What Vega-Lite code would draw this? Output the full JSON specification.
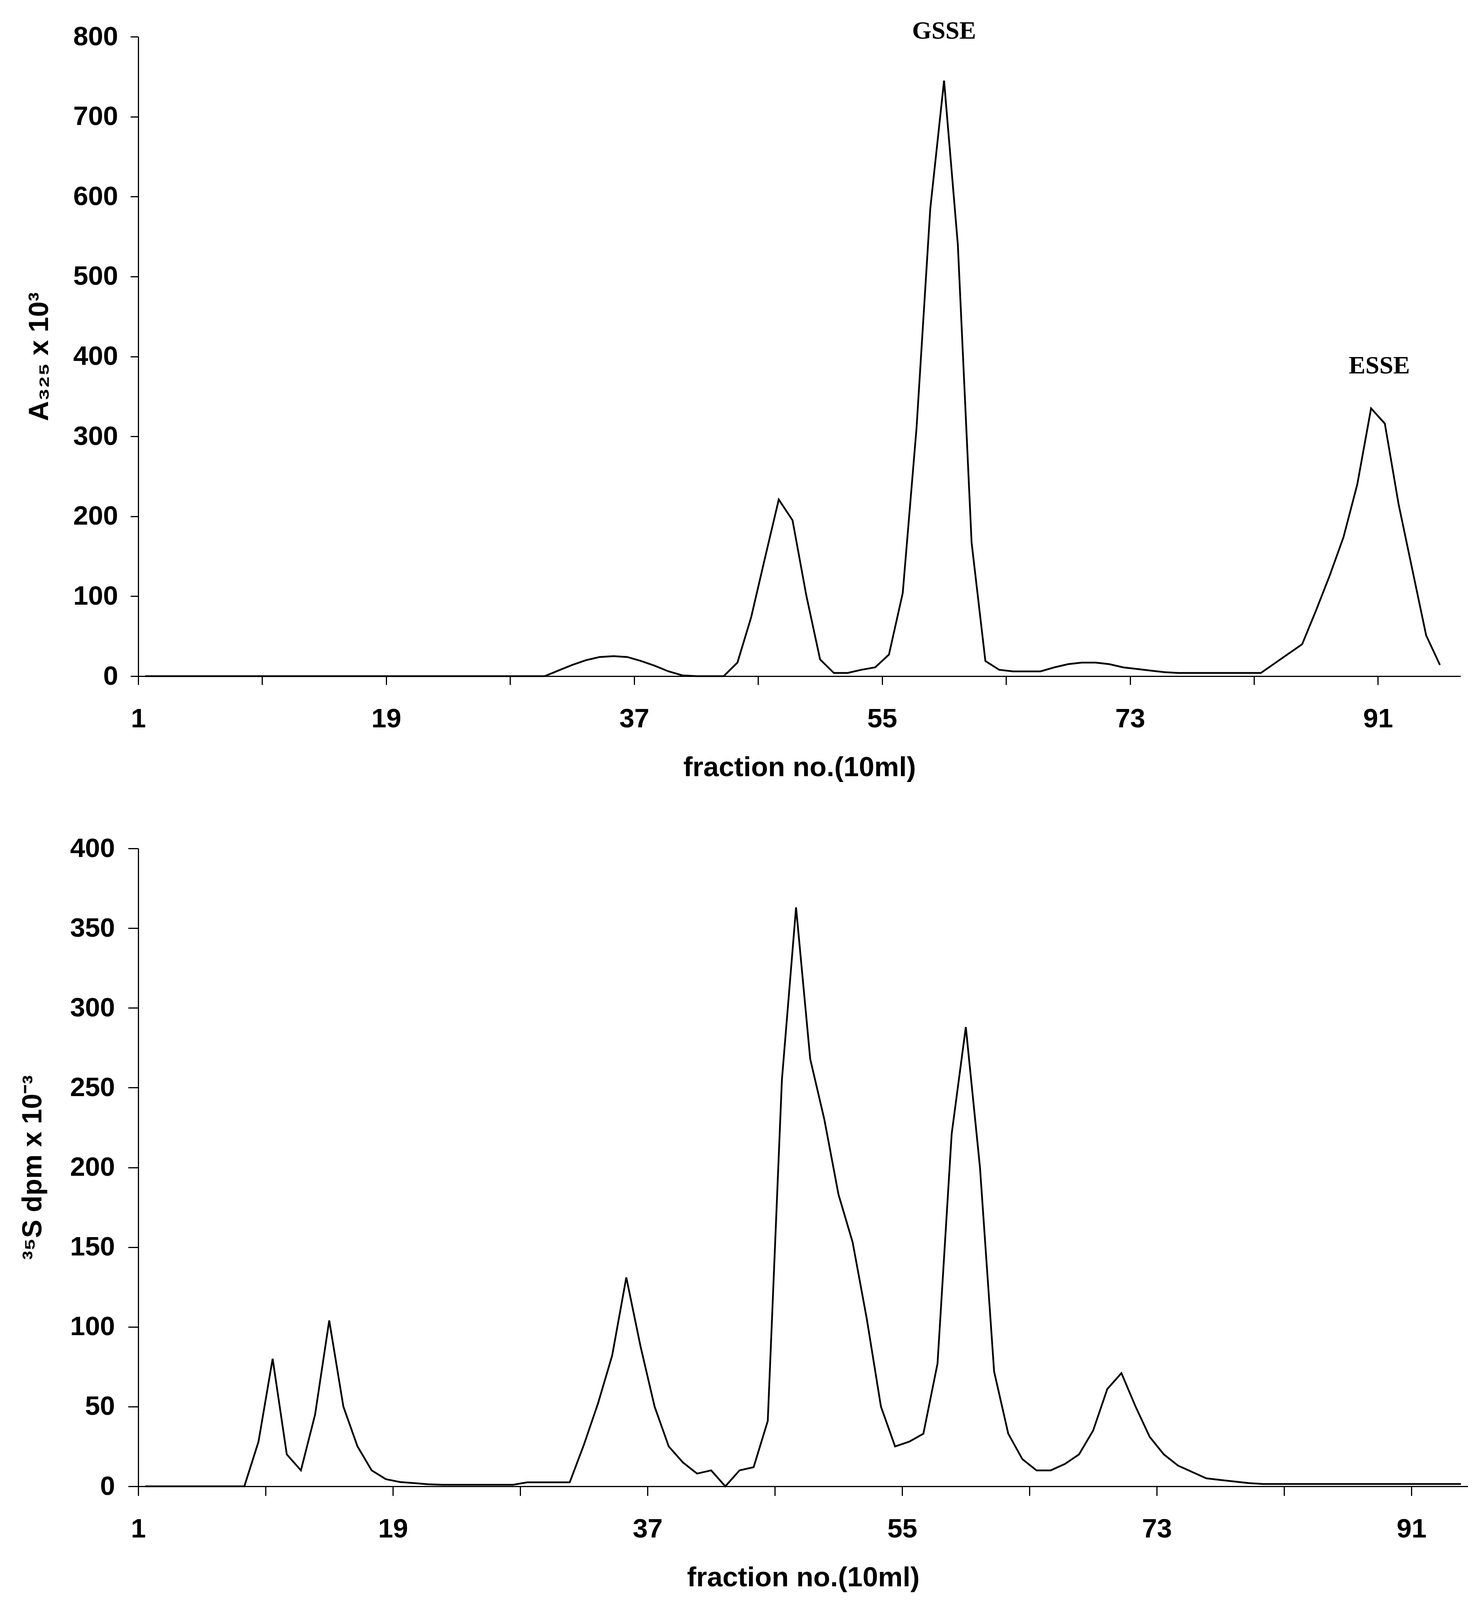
{
  "$schema": "https://vega.github.io/schema/vega-lite/v6.json",
  "background": "white",
  "padding": {"left": 49, "top": 47, "right": 0, "bottom": 10},
  "columns": 1,
  "align": "none",
  "spacing": 138,
  "config": {
    "view": {"stroke": null},
    "axis": {
      "grid": false,
      "domainColor": "black",
      "domainWidth": 3,
      "tickColor": "black",
      "tickWidth": 3,
      "labelColor": "black",
      "labelFont": "Liberation Sans",
      "labelFontWeight": "bold",
      "labelFontSize": 69,
      "titleFont": "Liberation Sans",
      "titleFontWeight": "bold",
      "titleColor": "black"
    }
  },
  "datasets": {
    "a325": [
      {"fraction": 1, "value": 0}, {"fraction": 2, "value": 0}, {"fraction": 3, "value": 0}, {"fraction": 4, "value": 0},
      {"fraction": 5, "value": 0}, {"fraction": 6, "value": 0}, {"fraction": 7, "value": 0}, {"fraction": 8, "value": 0},
      {"fraction": 9, "value": 0}, {"fraction": 10, "value": 0}, {"fraction": 11, "value": 0}, {"fraction": 12, "value": 0},
      {"fraction": 13, "value": 0}, {"fraction": 14, "value": 0}, {"fraction": 15, "value": 0}, {"fraction": 16, "value": 0},
      {"fraction": 17, "value": 0}, {"fraction": 18, "value": 0}, {"fraction": 19, "value": 0}, {"fraction": 20, "value": 0},
      {"fraction": 21, "value": 0}, {"fraction": 22, "value": 0}, {"fraction": 23, "value": 0}, {"fraction": 24, "value": 0},
      {"fraction": 25, "value": 0}, {"fraction": 26, "value": 0}, {"fraction": 27, "value": 0}, {"fraction": 28, "value": 0},
      {"fraction": 29, "value": 0}, {"fraction": 30, "value": 0}, {"fraction": 31, "value": 7}, {"fraction": 32, "value": 14},
      {"fraction": 33, "value": 20}, {"fraction": 34, "value": 24}, {"fraction": 35, "value": 25}, {"fraction": 36, "value": 24},
      {"fraction": 37, "value": 19}, {"fraction": 38, "value": 13}, {"fraction": 39, "value": 6}, {"fraction": 40, "value": 1},
      {"fraction": 41, "value": 0}, {"fraction": 42, "value": 0}, {"fraction": 43, "value": 0}, {"fraction": 44, "value": 17},
      {"fraction": 45, "value": 74}, {"fraction": 46, "value": 148}, {"fraction": 47, "value": 221}, {"fraction": 48, "value": 195},
      {"fraction": 49, "value": 101}, {"fraction": 50, "value": 21}, {"fraction": 51, "value": 4}, {"fraction": 52, "value": 4},
      {"fraction": 53, "value": 8}, {"fraction": 54, "value": 11}, {"fraction": 55, "value": 27}, {"fraction": 56, "value": 104},
      {"fraction": 57, "value": 310}, {"fraction": 58, "value": 585}, {"fraction": 59, "value": 745}, {"fraction": 60, "value": 540},
      {"fraction": 61, "value": 167}, {"fraction": 62, "value": 19}, {"fraction": 63, "value": 8}, {"fraction": 64, "value": 6},
      {"fraction": 65, "value": 6}, {"fraction": 66, "value": 6}, {"fraction": 67, "value": 11}, {"fraction": 68, "value": 15},
      {"fraction": 69, "value": 17}, {"fraction": 70, "value": 17}, {"fraction": 71, "value": 15}, {"fraction": 72, "value": 11},
      {"fraction": 73, "value": 9}, {"fraction": 74, "value": 7}, {"fraction": 75, "value": 5}, {"fraction": 76, "value": 4},
      {"fraction": 77, "value": 4}, {"fraction": 78, "value": 4}, {"fraction": 79, "value": 4}, {"fraction": 80, "value": 4},
      {"fraction": 81, "value": 4}, {"fraction": 82, "value": 4}, {"fraction": 83, "value": 16}, {"fraction": 84, "value": 28},
      {"fraction": 85, "value": 40}, {"fraction": 86, "value": 82}, {"fraction": 87, "value": 126}, {"fraction": 88, "value": 174},
      {"fraction": 89, "value": 240}, {"fraction": 90, "value": 335}, {"fraction": 91, "value": 316}, {"fraction": 92, "value": 215},
      {"fraction": 93, "value": 133}, {"fraction": 94, "value": 51}, {"fraction": 95, "value": 14}
    ],
    "s35": [
      {"fraction": 1, "value": 0}, {"fraction": 2, "value": 0}, {"fraction": 3, "value": 0}, {"fraction": 4, "value": 0},
      {"fraction": 5, "value": 0}, {"fraction": 6, "value": 0}, {"fraction": 7, "value": 0}, {"fraction": 8, "value": 0},
      {"fraction": 9, "value": 28}, {"fraction": 10, "value": 80}, {"fraction": 11, "value": 20}, {"fraction": 12, "value": 10},
      {"fraction": 13, "value": 45}, {"fraction": 14, "value": 104}, {"fraction": 15, "value": 50}, {"fraction": 16, "value": 25},
      {"fraction": 17, "value": 10}, {"fraction": 18, "value": 4.5}, {"fraction": 19, "value": 2.7}, {"fraction": 20, "value": 2},
      {"fraction": 21, "value": 1.3}, {"fraction": 22, "value": 1}, {"fraction": 23, "value": 1}, {"fraction": 24, "value": 1},
      {"fraction": 25, "value": 1}, {"fraction": 26, "value": 1}, {"fraction": 27, "value": 1}, {"fraction": 28, "value": 2.5},
      {"fraction": 29, "value": 2.5}, {"fraction": 30, "value": 2.5}, {"fraction": 31, "value": 2.5}, {"fraction": 32, "value": 26},
      {"fraction": 33, "value": 52}, {"fraction": 34, "value": 82}, {"fraction": 35, "value": 131}, {"fraction": 36, "value": 88},
      {"fraction": 37, "value": 50}, {"fraction": 38, "value": 25}, {"fraction": 39, "value": 15}, {"fraction": 40, "value": 8},
      {"fraction": 41, "value": 10}, {"fraction": 42, "value": 0}, {"fraction": 43, "value": 10}, {"fraction": 44, "value": 12},
      {"fraction": 45, "value": 41}, {"fraction": 46, "value": 255}, {"fraction": 47, "value": 363}, {"fraction": 48, "value": 268},
      {"fraction": 49, "value": 230}, {"fraction": 50, "value": 183}, {"fraction": 51, "value": 153}, {"fraction": 52, "value": 105},
      {"fraction": 53, "value": 50}, {"fraction": 54, "value": 25}, {"fraction": 55, "value": 28}, {"fraction": 56, "value": 33},
      {"fraction": 57, "value": 77}, {"fraction": 58, "value": 221}, {"fraction": 59, "value": 288}, {"fraction": 60, "value": 200},
      {"fraction": 61, "value": 72}, {"fraction": 62, "value": 33}, {"fraction": 63, "value": 17}, {"fraction": 64, "value": 10},
      {"fraction": 65, "value": 10}, {"fraction": 66, "value": 14}, {"fraction": 67, "value": 20}, {"fraction": 68, "value": 35},
      {"fraction": 69, "value": 61}, {"fraction": 70, "value": 71}, {"fraction": 71, "value": 50}, {"fraction": 72, "value": 31},
      {"fraction": 73, "value": 20}, {"fraction": 74, "value": 13}, {"fraction": 75, "value": 9}, {"fraction": 76, "value": 5},
      {"fraction": 77, "value": 4}, {"fraction": 78, "value": 3}, {"fraction": 79, "value": 2}, {"fraction": 80, "value": 1.5},
      {"fraction": 81, "value": 1.5}, {"fraction": 82, "value": 1.5}, {"fraction": 83, "value": 1.5}, {"fraction": 84, "value": 1.5},
      {"fraction": 85, "value": 1.5}, {"fraction": 86, "value": 1.5}, {"fraction": 87, "value": 1.5}, {"fraction": 88, "value": 1.5},
      {"fraction": 89, "value": 1.5}, {"fraction": 90, "value": 1.5}, {"fraction": 91, "value": 1.5}, {"fraction": 92, "value": 1.5},
      {"fraction": 93, "value": 1.5}, {"fraction": 94, "value": 1.5}
    ],
    "notes": [
      {"fraction": 59, "value": 807, "label": "GSSE"},
      {"fraction": 90.6, "value": 388, "label": "ESSE"}
    ]
  },
  "concat": [
    {
      "width": 3386,
      "height": 1637,
      "encoding": {
        "x": {
          "field": "fraction",
          "type": "quantitative",
          "scale": {"domain": [0.5, 96.5], "nice": false, "zero": false},
          "axis": {
            "values": [0.5, 9.5, 18.5, 27.5, 36.5, 45.5, 54.5, 63.5, 72.5, 81.5, 90.5],
            "labelExpr": "(datum.value - 0.5) % 18 == 0 ? toString(datum.value + 0.5) : ''",
            "labelDx": 18,
            "labelFlush": false,
            "labelOverlap": false,
            "tickSize": 22,
            "labelPadding": 53,
            "title": "fraction no.(10ml)",
            "titleFontSize": 71,
            "titlePadding": 55
          }
        },
        "y": {
          "field": "value",
          "type": "quantitative",
          "scale": {"domain": [0, 800], "nice": false},
          "axis": {
            "values": [0, 100, 200, 300, 400, 500, 600, 700, 800],
            "tickSize": 20,
            "labelPadding": 32,
            "title": "A₃₂₅ x 10³",
            "titleFontSize": 71,
            "titlePadding": 49
          }
        }
      },
      "layer": [
        {
          "data": {"name": "a325"},
          "mark": {"type": "line", "color": "black", "strokeWidth": 4.5}
        },
        {
          "data": {"name": "notes"},
          "mark": {"type": "text", "font": "Liberation Serif", "fontWeight": "bold", "fontSize": 64, "color": "black", "baseline": "middle", "align": "center"},
          "encoding": {"text": {"field": "label"}}
        }
      ]
    },
    {
      "width": 3405,
      "height": 1633,
      "data": {"name": "s35"},
      "mark": {"type": "line", "color": "black", "strokeWidth": 4.5},
      "encoding": {
        "x": {
          "field": "fraction",
          "type": "quantitative",
          "scale": {"domain": [0.5, 94.5], "nice": false, "zero": false},
          "axis": {
            "values": [0.5, 9.5, 18.5, 27.5, 36.5, 45.5, 54.5, 63.5, 72.5, 81.5, 90.5],
            "labelExpr": "(datum.value - 0.5) % 18 == 0 ? toString(datum.value + 0.5) : ''",
            "labelDx": 18,
            "labelFlush": false,
            "labelOverlap": false,
            "tickSize": 24,
            "labelPadding": 51,
            "title": "fraction no.(10ml)",
            "titleFontSize": 71,
            "titlePadding": 55
          }
        },
        "y": {
          "field": "value",
          "type": "quantitative",
          "scale": {"domain": [0, 400], "nice": false},
          "axis": {
            "values": [0, 50, 100, 150, 200, 250, 300, 350, 400],
            "tickSize": 26,
            "labelPadding": 34,
            "title": "³⁵S dpm x 10⁻³",
            "titleFontSize": 70,
            "titlePadding": 58
          }
        }
      }
    }
  ]
}
